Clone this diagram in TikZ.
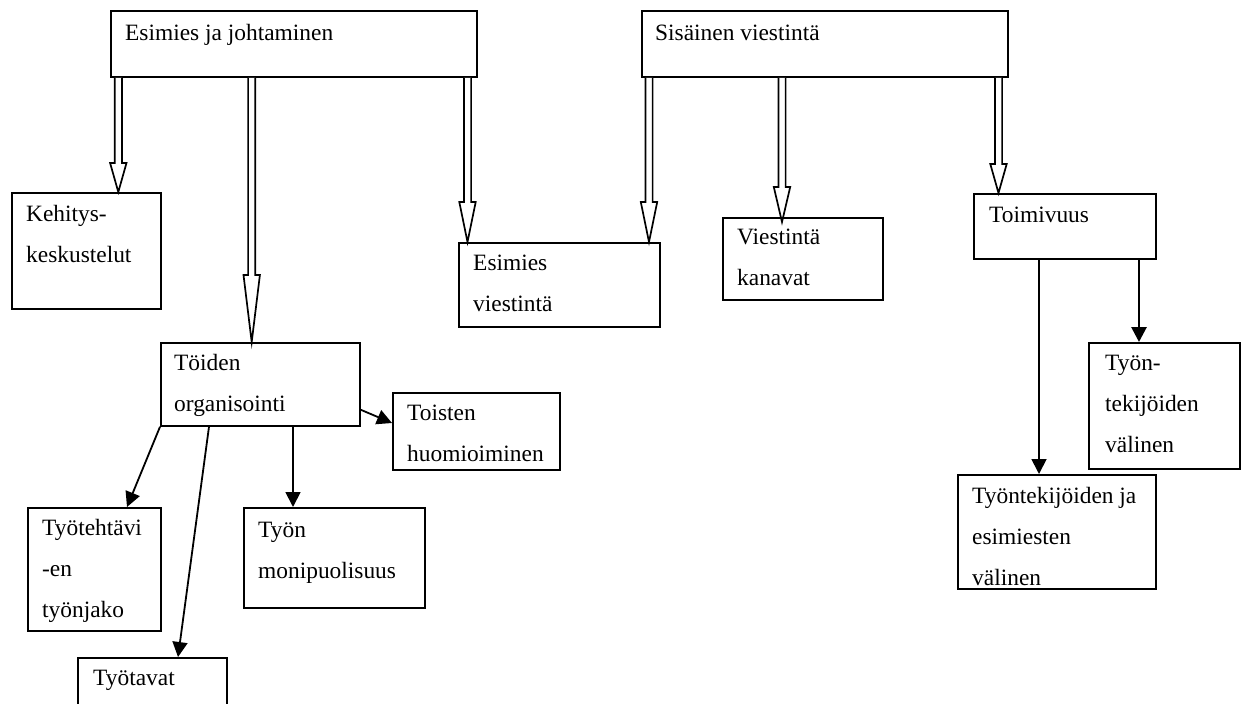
\documentclass[tikz,border=0pt]{standalone}
\usepackage{fontspec}
\setmainfont{Liberation Serif}
\usetikzlibrary{arrows.meta,calc}
\tikzset{
  box/.style={draw, line width=1.8pt, rectangle, inner sep=0pt, anchor=north west},
  txt/.style={inner sep=0pt, anchor=base west, font=\fontsize{23.4}{41}\selectfont},
  blk/.style={line width=1.8pt, -{Triangle[length=15pt,width=15pt]}},
  blkthick/.style={line width=2.8pt, -{Triangle[length=15pt,width=15pt]}},
  hollow/.style={draw, line width=1.7pt, fill=white, line join=miter}
}
\newcommand\hollowarrow[3]{%
  \path[hollow] let \p1=(#1), \p2=(#2) in
    (\x1-3.6pt,\y1) -- (\x1-3.6pt,\y2+#3) -- (\x1-8.2pt,\y2+#3) -- (\x1,\y2)
    -- (\x1+8.2pt,\y2+#3) -- (\x1+3.6pt,\y2+#3) -- (\x1+3.6pt,\y1);}
\newcommand\lines[1]{\begin{tabular}[t]{@{}l@{}}#1\end{tabular}}
\begin{document}
\begin{tikzpicture}[x=1pt,y=-1pt]
\useasboundingbox (0,0) rectangle (1243,704);
\clip (0,0) rectangle (1243,704);
% boxes
\node[box, minimum width=366pt, minimum height=66pt] (ej) at (110,10) {};
\node[box, minimum width=366pt, minimum height=66pt] (sv) at (641,10) {};
\node[box, minimum width=149pt, minimum height=116pt] (keh) at (11,192) {};
\node[box, minimum width=199pt, minimum height=83pt] (toi) at (160,342) {};
\node[box, minimum width=201pt, minimum height=84pt] (esv) at (458,242) {};
\node[box, minimum width=160pt, minimum height=82pt] (vk) at (722,217) {};
\node[box, minimum width=182pt, minimum height=65pt] (toim) at (973,193) {};
\node[box, minimum width=167pt, minimum height=77pt] (toist) at (392,392) {};
\node[box, minimum width=133pt, minimum height=123pt] (tyot) at (27,507) {};
\node[box, minimum width=181pt, minimum height=100pt] (tyon) at (243,507) {};
\node[box, minimum width=149pt, minimum height=60pt] (tapa) at (77,657) {};
\node[box, minimum width=151pt, minimum height=126pt] (tekv) at (1088,342) {};
\node[box, minimum width=198pt, minimum height=114pt] (tej) at (957,474) {};
% texts
\node[txt] (ej-t) at ([shift={(15pt,-30pt)}]ej.north west) {Esimies ja johtaminen};
\node[txt] (sv-t) at ([shift={(14pt,-30pt)}]sv.north west) {Sisäinen viestintä};
\node[txt] (keh-t) at ([shift={(15pt,-29pt)}]keh.north west) {\lines{Kehitys-\\keskustelut}};
\node[txt] (toi-t) at ([shift={(14pt,-28pt)}]toi.north west) {\lines{Töiden\\organisointi}};
\node[txt] (esv-t) at ([shift={(15pt,-28pt)}]esv.north west) {\lines{Esimies\\viestintä}};
\node[txt] (vk-t) at ([shift={(15pt,-27pt)}]vk.north west) {\lines{Viestintä\\kanavat}};
\node[txt] (toim-t) at ([shift={(16pt,-29pt)}]toim.north west) {Toimivuus};
\node[txt] (toist-t) at ([shift={(15pt,-28pt)}]toist.north west) {\lines{Toisten\\huomioiminen}};
\node[txt] (tyot-t) at ([shift={(15pt,-28pt)}]tyot.north west) {\lines{Työtehtävi\\-en\\työnjako}};
\node[txt] (tyon-t) at ([shift={(15pt,-30pt)}]tyon.north west) {\lines{Työn\\monipuolisuus}};
\node[txt] (tapa-t) at ([shift={(16pt,-28pt)}]tapa.north west) {Työtavat};
\node[txt] (tekv-t) at ([shift={(17pt,-28pt)}]tekv.north west) {\lines{Työn-\\tekijöiden\\välinen}};
\node[txt] (tej-t) at ([shift={(15pt,-29pt)}]tej.north west) {\lines{Työntekijöiden ja\\esimiesten\\välinen}};
% hollow arrows
\hollowarrow{[xshift=8.3pt]ej.south west}{keh.north}{29pt}
\hollowarrow{[xshift=141.7pt]ej.south west}{toi.north}{67pt}
\hollowarrow{[xshift=357.5pt]ej.south west}{esv.north}{40pt}
\hollowarrow{[xshift=8pt]sv.south west}{esv.north}{40pt}
\hollowarrow{[xshift=141pt]sv.south west}{[yshift=-5pt]vk.north}{35pt}
\hollowarrow{[xshift=357.5pt]sv.south west}{toim.north}{29pt}
% black arrows
\draw[blk] ([yshift=17pt]toi.south east) -- ([yshift=-31pt]toist.north west);
\draw[blk] (toi.south west) -- ([xshift=100pt]tyot.north west);
\draw[blk] ([xshift=49pt]toi.south west) -- ([xshift=101pt]tapa.north west);
\draw[blk] ([xshift=133pt]toi.south west) -- ([xshift=50pt]tyon.north west);
\draw[blk] ([xshift=66pt]toim.south west) -- ([xshift=82pt]tej.north west);
\draw[blkthick] ([xshift=166pt]toim.south west) -- ([xshift=51pt]tekv.north west);
\end{tikzpicture}
\end{document}
